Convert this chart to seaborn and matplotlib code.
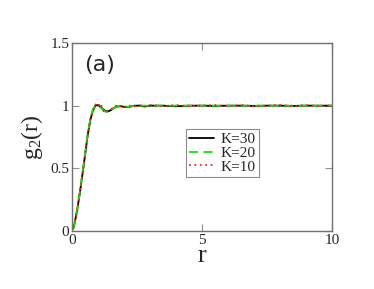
import matplotlib
matplotlib.use("Agg")
import matplotlib.pyplot as plt
import pandas as pd
import seaborn as sns

# Pair correlation g2(r) for three values of K
r = [0.05, 0.1, 0.2, 0.3, 0.4, 0.5, 0.6, 0.7, 0.8, 0.9, 1.0, 1.1, 1.2, 1.3,
     1.4, 1.5, 1.6, 1.7, 1.8, 1.9, 2.0, 2.2, 2.4, 2.6, 2.8, 3.0, 3.5, 4.0,
     4.5, 5.0, 5.5, 6.0, 6.5, 7.0, 7.5, 8.0, 8.5, 9.0, 9.5, 10.0]
g_k30 = [0.02, 0.06, 0.17, 0.30, 0.45, 0.60, 0.76, 0.88, 0.96, 1.00, 1.005,
         0.99, 0.97, 0.955, 0.955, 0.965, 0.98, 0.99, 0.995, 0.995, 0.99,
         0.99, 1.0, 1.0, 0.995, 1.0, 1.0, 0.995, 1.0, 1.0, 0.998, 1.0,
         1.0, 0.998, 1.0, 1.0, 0.998, 1.0, 1.0, 1.0]
g_k20 = [0.02, 0.06, 0.17, 0.31, 0.46, 0.61, 0.77, 0.89, 0.97, 1.00, 1.0,
         0.985, 0.965, 0.95, 0.955, 0.965, 0.98, 0.99, 0.995, 0.995, 0.995,
         0.99, 1.0, 1.0, 1.0, 1.0, 1.0, 1.0, 1.0, 1.0, 1.0, 1.0,
         1.0, 1.0, 1.0, 1.0, 1.0, 1.0, 1.0, 1.0]
g_k10 = [0.03, 0.07, 0.15, 0.32, 0.44, 0.62, 0.74, 0.90, 0.95, 1.01, 0.99,
         1.02, 0.96, 0.94, 0.965, 0.97, 0.99, 1.0, 0.985, 1.005, 0.99,
         1.0, 0.995, 1.005, 0.99, 1.005, 0.995, 1.005, 0.995, 1.0, 1.005,
         0.995, 1.005, 0.995, 1.0, 1.005, 0.995, 1.005, 0.995, 1.0]
labels = ["K=30", "K=20", "K=10"]

df = pd.concat([
    pd.DataFrame({"r": r, "g": g_k30, "K": labels[0]}),
    pd.DataFrame({"r": r, "g": g_k20, "K": labels[1]}),
    pd.DataFrame({"r": r, "g": g_k10, "K": labels[2]}),
])

sns.set_style("white")
plt.rcParams["font.family"] = ["Liberation Serif", "DejaVu Serif"]
plt.rcParams["mathtext.fontset"] = "custom"
plt.rcParams["mathtext.rm"] = "Liberation Serif"
plt.rcParams["mathtext.it"] = "Liberation Serif"

fig, ax = plt.subplots(figsize=(3.74, 2.89), dpi=100)
fig.subplots_adjust(left=72 / 374, right=332 / 374, top=1 - 43 / 289, bottom=1 - 231 / 289)

sns.lineplot(data=df, x="r", y="g", hue="K", style="K",
             palette={"K=30": "black", "K=20": "#00ee00", "K=10": "#ff2020"},
             dashes={"K=30": "", "K=20": (5, 3), "K=10": (1, 2)},
             linewidth=1.3, ax=ax)

ax.set_xlim(0, 10)
ax.set_ylim(0, 1.5)
ax.set_xticks([0, 5, 10])
ax.set_xticklabels(["0", "5", "10"])
ax.set_yticks([0, 0.5, 1, 1.5])
ax.set_yticklabels(["0", "0.5", "1", "1.5"])
ax.tick_params(direction="in", length=5, color="#909090", labelsize=11,
               top=True, right=True, bottom=True, left=True, pad=2)
for sp in ax.spines.values():
    sp.set_color("#707070")
    sp.set_linewidth(1.0)

ax.set_xlabel("r", fontsize=19, labelpad=-1)
ax.set_ylabel(r"g$_2$(r)", fontsize=17, labelpad=4)
ax.text(0.045, 0.935, "(a)", transform=ax.transAxes, fontsize=16,
        family="DejaVu Sans", va="top")

leg = ax.legend(loc="upper left", bbox_to_anchor=(0.44, 0.54), fontsize=11,
                frameon=True, fancybox=False, handlelength=1.6,
                borderpad=0.2, labelspacing=0.0, handletextpad=0.45,
                borderaxespad=0)
leg.get_frame().set_edgecolor("#707070")
leg.get_frame().set_linewidth(0.8)

fig.savefig("out.png", dpi=100)
